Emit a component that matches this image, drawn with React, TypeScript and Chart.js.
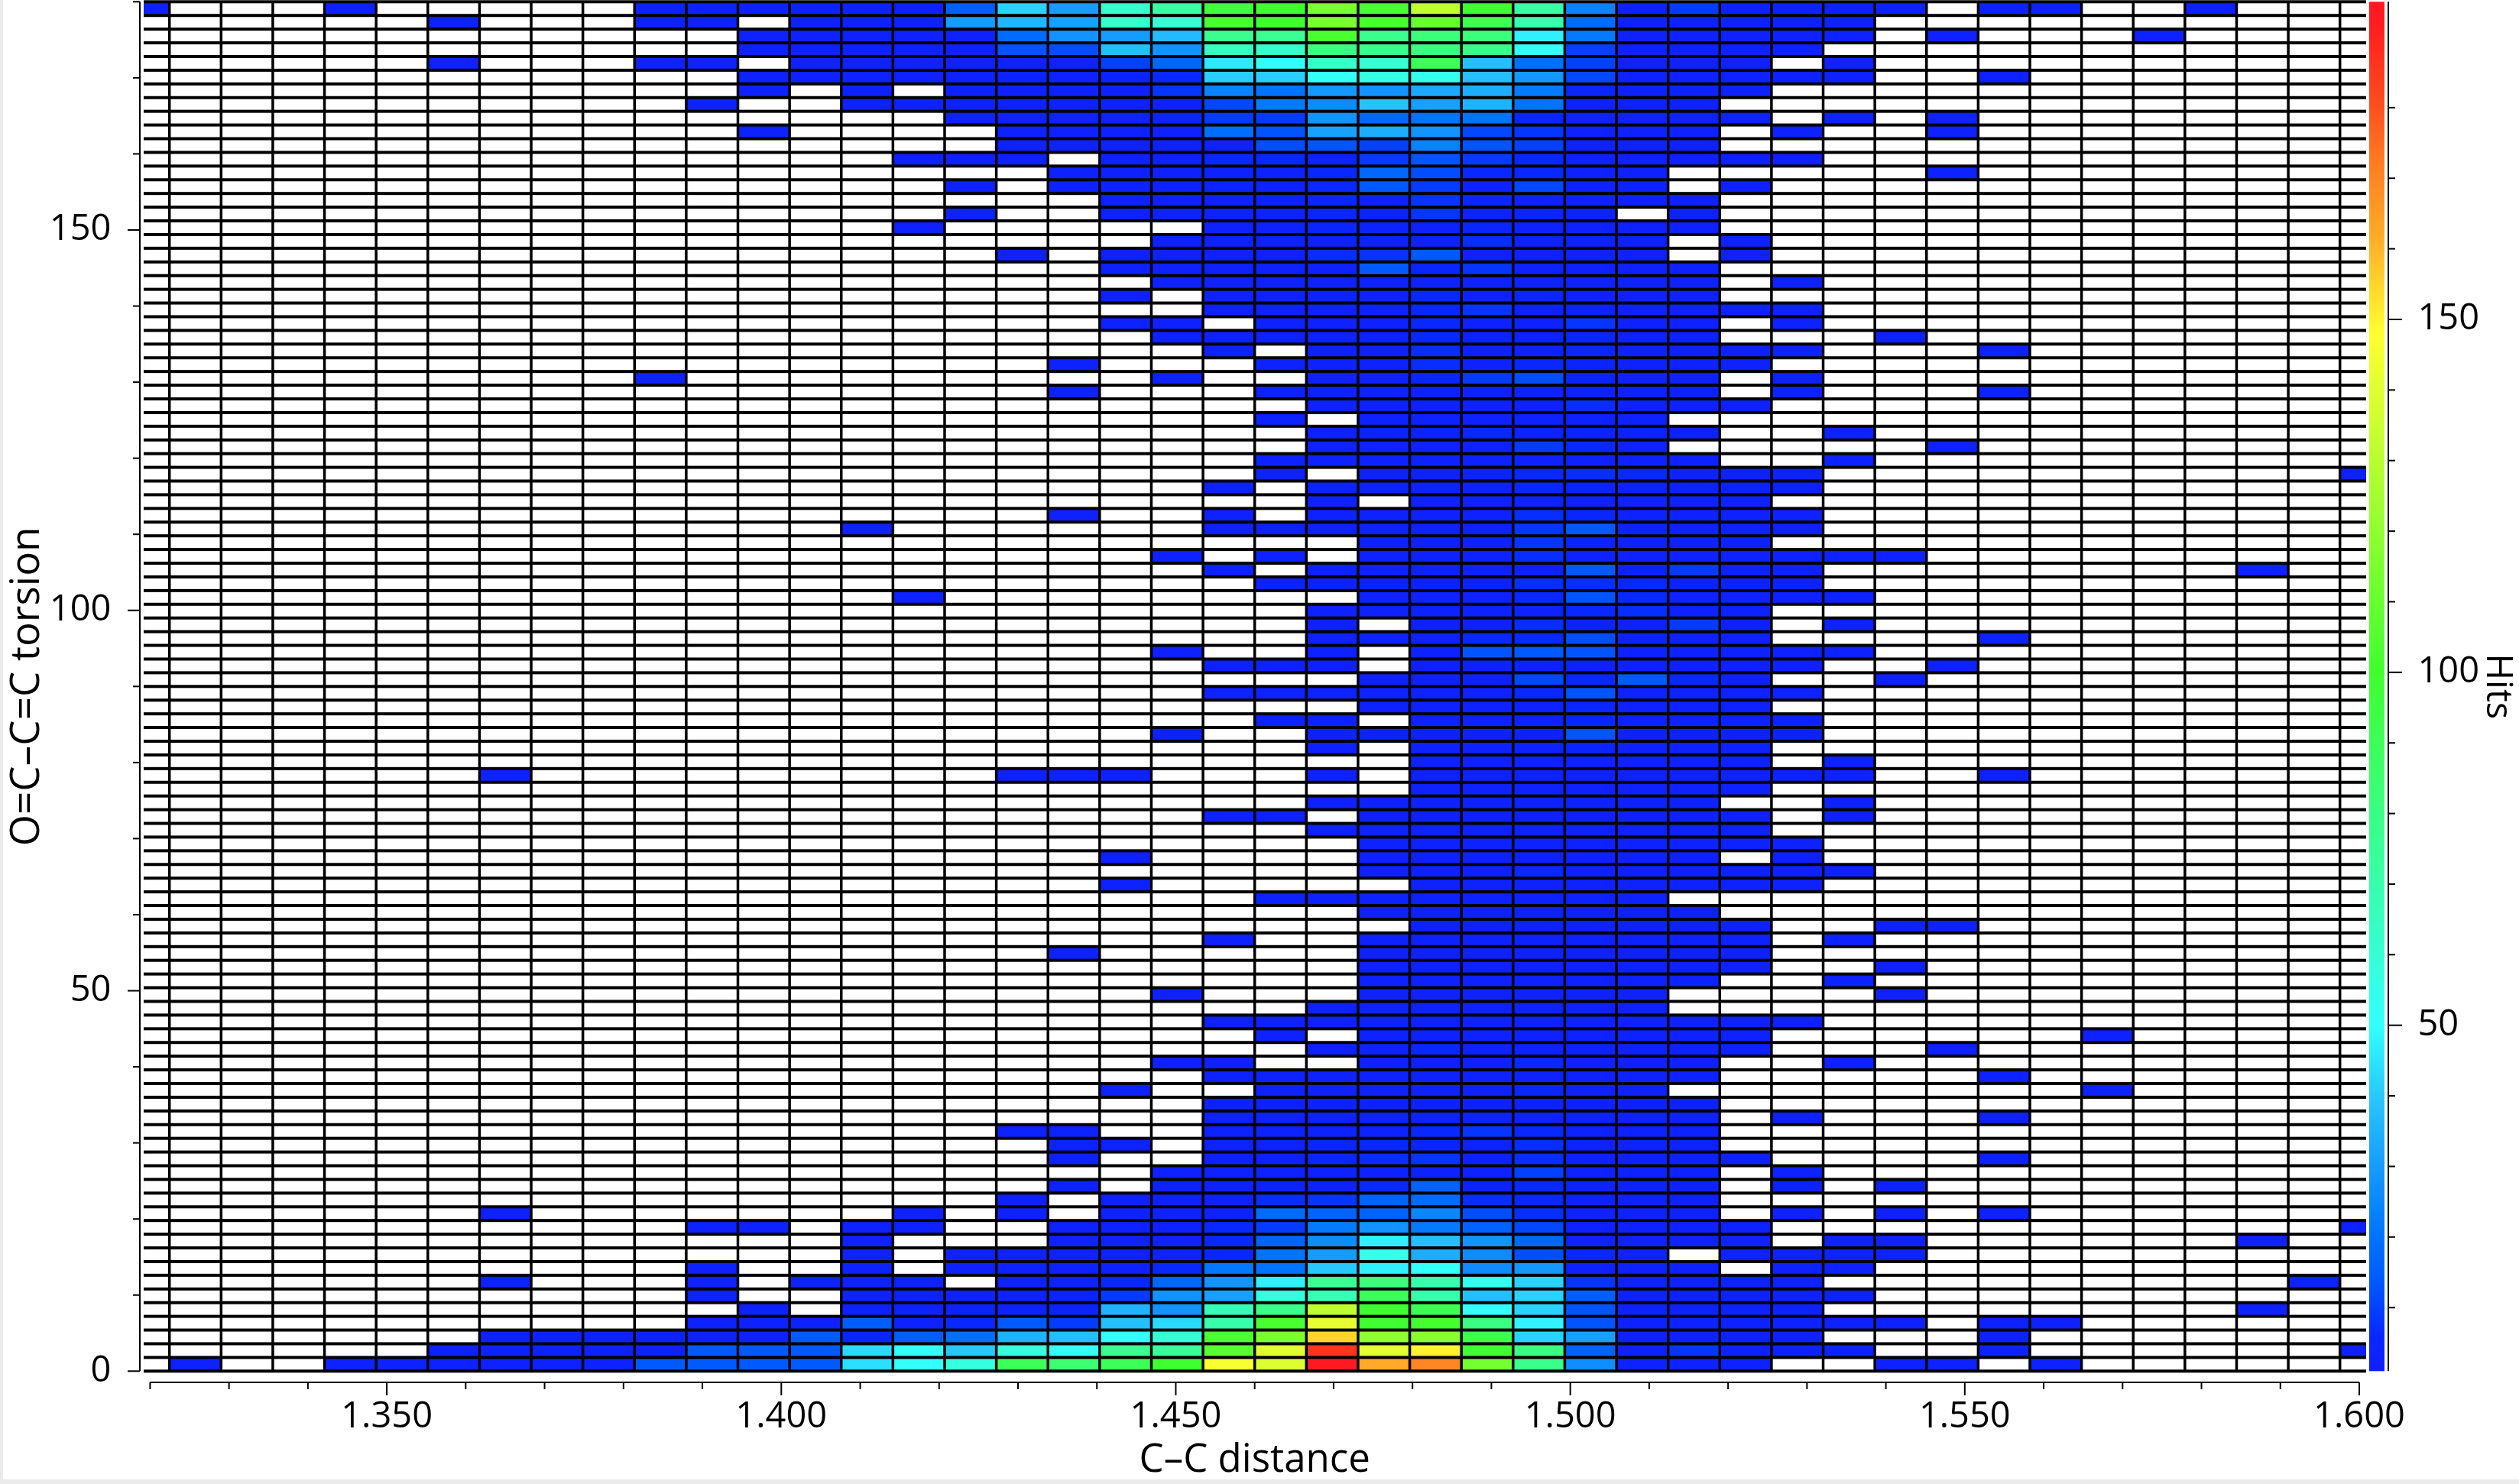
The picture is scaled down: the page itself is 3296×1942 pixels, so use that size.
import React, { useEffect, useRef } from "react";
import { Chart, registerables } from "chart.js";

Chart.register(...registerables);

const X_TITLE = "C\u2013C distance";
const Y_TITLE = "O=C\u2013C=C torsion";
const BAR_TITLE = "Hits";

const xRange = [1.32, 1.6];
const yRange = [0, 180];
const hitsRange = [1, 195];
const xBinStart = 1.3159;
const xBinWidth = 0.00655;
const xBinCount = 44;
const yBinHeight = 1.8;
const yBinCount = 100;
const heatXRange = [1.31919, 1.60087];
const LOW_HITS = 3;

// Rows run from the top of the plot (178.2-180) to the bottom (0-1.8).
// Each row gives the hits of the last columns of the core block, c14..c30; missing leading entries are empty.
const coreHits: number[][] = [
  [3,3,15,42,30,62,72,96,100,115,102,132,100,72,24,3,9],
  [3,3,30,36,31,62,60,102,100,115,102,110,92,70,18,3,3],
  [3,3,3,18,28,30,37,77,76,102,78,82,82,47,22,3,3],
  [3,3,3,13,12,38,28,65,63,80,78,80,78,50,10,3,3],
  [3,3,3,3,3,10,17,46,50,63,60,90,38,19,10,3,3],
  [3,3,3,4,3,4,6,41,41,52,57,55,38,29,11,3,3],
  [3,0,3,3,3,3,8,24,20,29,28,33,34,22,5,3,3],
  [3,3,3,3,3,3,3,11,22,26,39,31,35,20,3,3,3],
  [3,3,3,3,4,9,9,28,17,20,20,5,3,3,3],
  [3,3,3,3,19,13,31,34,28,11,8,3,3,3],
  [3,3,3,3,3,12,13,10,24,13,10,3,3,3],
  [3,3,3,0,3,3,6,6,4,9,13,9,6,3,3,3],
  [3,3,3,3,3,6,17,12,6,6,3,3,0],
  [3,0,3,3,3,4,3,6,14,9,3,11,3,3,0],
  [3,3,3,4,6,3,8,6,3,3,3,3],
  [3,0,0,3,3,3,3,5,3,8,3,4,3,0,3],
  [3,0,0,0,0,0,3,3,5,4,3,5,3,3,3,3],
  [3,3,3,3,3,3,7,3,3,3,0],
  [3,0,3,3,3,3,7,8,14,3,3,3,3,0],
  [3,3,3,3,3,14,5,8,3,3,3,3],
  [3,3,3,3,3,3,3,3,3,3,3],
  [3,0,3,3,4,3,6,3,5,3,3,3],
  [3,3,3,3,6,8,3,3,3,3],
  [3,3,0,3,3,3,6,3,3,8,3,3],
  [3,3,3,3,3,6,4,3,5,3,3],
  [3,0,3,3,7,3,3,5,3,3],
  [3,0,0,0,3,3,3,7,3,6,4,3,3],
  [3,0,0,3,3,5,9,12,4,3,3],
  [3,0,0,0,3,3,3,3,3,3,3,3,3],
  [3,3,3,3,3,7,3,3],
  [3,0,3,3,3,3,3,3,0],
  [3,3,3,6,3,3,3,3],
  [3,3,3,3,9,6,3,0],
  [3,3,3,3,3,3,3,3,3],
  [3,0,3,3,4,6,7,6,3],
  [3,0,3,3,3,3,6,4,3,3],
  [3,0,3,3,3,3,3,3],
  [3,0,0,3,0,3,3,3,3,7,5,3,3],
  [3,0,0,0,0,0,0,3,3,3,3,3,3,8,14,4,3],
  [3,3,3,8,4,3,3],
  [3,0,3,0,3,3,3,7,3,3,3],
  [3,0,3,3,3,3,3,14,4,9],
  [3,3,3,3,3,7,7,6,3],
  [3,0,0,0,0,0,0,0,0,3,3,3,6,13,6,3],
  [3,3,3,3,3,6,7,3],
  [3,0,3,3,7,4,3,9],
  [3,3,3,6,6,12,4,3],
  [3,0,0,3,0,3,13,14,13,3,3],
  [3,3,3,0,3,3,3,3,3,3],
  [3,3,3,11,6,14,6],
  [3,3,3,3,3,3,6,13,3,3],
  [3,3,3,3,5,3,3],
  [3,3,0,3,3,3,5,3,3],
  [3,0,0,3,3,3,3,3,13,3,3],
  [3,0,3,3,3,4,3,3],
  [3,3,3,3,3,3],
  [3,3,3,0,0,0,3,0,3,3,3,3,3,3],
  [3,3,3,3,3,3],
  [3,3,3,3,3,3,3,3],
  [3,3,0,3,3,3,3,3,3,3],
  [3,3,3,3,3,3,3,3],
  [3,3,3,3,3,3,3],
  [3,0,0,0,0,3,3,3,3,3,3,3],
  [3,3,3,6,3,3,3],
  [3,0,0,0,0,0,3,3,3,3,3,3],
  [3,3,3,3,3,3,3,3,0],
  [3,3,3,3,3,3,3],
  [3,3,3,3,3,3],
  [3,0,0,3,3,3,3,3,3,3],
  [3,0,0,0,0,0,3,3,3,3,3,3,3],
  [3,3,3,3,3,3,3],
  [3,3,3,3,3,3,3],
  [3,0,0,0,3,3,3,3,3,3,0],
  [3,3,3,3,3,3,3,0],
  [3,3,3,3,3,3,3,3,3,3],
  [3,0,3,3,3,3,3,3,3],
  [3,3,6,3,3,3,3,3],
  [3,3,0,0,3,3,3,6,3,3,3],
  [3,3,3,3,3,3,3,3,3,3],
  [3,0,0,3,3,3,3,3,5,3,3,0],
  [3,3,3,3,3,3,3,3,3,3],
  [3,3,3,3,3,3,3,3,3,3],
  [3,3,0,0,3,3,3,3,6,8,6,3,3,3],
  [3,3,0,3,3,5,6,5,3,7,3,3,3],
  [3,0,0,3,3,5,7,8,3,7,3,3,3],
  [3,3,3,3,3,3,3,10,3,3,3],
  [3,0,3,3,3,3,6,16,3,6,3,3,3],
  [3,0,3,3,3,7,8,16,18,7,6,3,3,3],
  [3,0,3,0,3,3,3,18,16,16,25,12,7,3,3,3],
  [3,3,0,0,3,3,3,6,9,22,28,22,16,11,3,3,3],
  [3,0,0,0,3,3,3,6,16,26,47,38,28,17,3,3,3],
  [3,0,3,3,3,3,3,5,20,30,55,34,26,12,6,3,0],
  [3,0,3,3,3,3,6,21,20,40,47,51,26,29,3,3,3],
  [3,3,0,3,3,6,17,28,47,76,82,70,54,42,8,3,3],
  [3,3,3,3,4,9,28,31,58,68,90,70,38,42,15,3,3],
  [3,3,4,3,4,35,28,67,78,132,100,92,50,42,13,3,3],
  [15,3,6,14,9,38,43,70,102,142,100,101,80,48,13,3,3],
  [5,15,19,35,38,51,60,103,115,155,120,118,93,42,31,3,3],
  [43,52,40,58,52,76,74,106,140,186,141,150,100,80,16,3,8],
  [44,51,58,90,84,90,100,146,139,195,162,170,113,78,27,3,3],
];

// Columns outside the core block that hold a few hits, same row order.
const sideColumns: number[][] = [
  [0,4,10,11,12,13,31,32,33,34,36,37,40],
  [6,10,11,13,31,32,33],
  [12,13,31,32,33,35,39],
  [12,13,31,32],
  [6,10,11,13,31,33],
  [12,13,31,32,33,36],
  [12,31],
  [11],
  [31,33,35],
  [12,32,35],
  [],
  [31,32],
  [35],
  [31],
  [],
  [],
  [],
  [31],
  [31],
  [],
  [32],
  [],
  [31,32],
  [32],
  [34],
  [31,32,36],
  [31],
  [10,32],
  [32,36],
  [31],
  [],
  [33],
  [35],
  [33],
  [31,32,43],
  [31,32],
  [31],
  [31,32],
  [31,32],
  [31],
  [31,32,33,34],
  [31,32,41],
  [31,32],
  [31,32,33],
  [31],
  [31,33],
  [31,36],
  [31,32,33],
  [31,32,35],
  [31,34],
  [31,32],
  [31],
  [31,32],
  [31,32],
  [31],
  [31,33],
  [7,31,32,33,36],
  [31],
  [33],
  [31,33],
  [31],
  [31,32],
  [32],
  [31,32,33],
  [31,32],
  [],
  [],
  [31,34,35],
  [31,33],
  [31],
  [31,34],
  [33],
  [34],
  [],
  [31,32],
  [31,38],
  [31,35],
  [33],
  [36],
  [38],
  [],
  [32,36],
  [],
  [],
  [31,36],
  [32],
  [32,34],
  [],
  [7,32,34,36],
  [11,12,31,43],
  [31,33,34,41],
  [31,32,33,34],
  [11,32,33],
  [7,11,13,31,32,42],
  [11,31,32,33],
  [12,31,32,41],
  [11,12,13,31,32,33,34,36,37],
  [7,8,9,10,11,12,13,31,32,36],
  [6,7,8,9,10,11,12,13,31,32,33,36,43],
  [1,4,5,6,7,8,9,10,11,12,13,31,34,35,37],
];

// [row, column, hits] for side cells lighter than the common low count.
const sideStronger: number[][] = [
  [97,13,14],[98,11,14],[98,12,14],[98,13,14],[99,10,14],[99,11,14],[99,12,14],[99,13,14],
];

const colorStopValues = [1, 6, 14, 20, 30, 40, 50, 100, 148, 162, 172, 182, 192, 195];
const colorStopRgb = [
  [16, 30, 255],
  [8, 40, 255],
  [0, 90, 255],
  [0, 115, 255],
  [22, 155, 255],
  [40, 200, 255],
  [51, 255, 255],
  [64, 255, 48],
  [255, 255, 48],
  [255, 170, 40],
  [255, 125, 35],
  [255, 70, 30],
  [255, 28, 30],
  [255, 25, 35],
];

function hitColor(v: number): string {
  const vs = colorStopValues;
  let i = 0;
  while (i < vs.length - 2 && v > vs[i + 1]) i++;
  const f = Math.min(1, Math.max(0, (v - vs[i]) / (vs[i + 1] - vs[i])));
  const a = colorStopRgb[i];
  const b = colorStopRgb[i + 1];
  return `rgb(${a.map((c, k) => Math.round(c + (b[k] - c) * f)).join(",")})`;
}

type Cell = { x: number; y: number; v: number };

const cells: Cell[] = [];
for (let t = 0; t < yBinCount; t++) {
  const row = new Array(xBinCount).fill(0);
  const core = coreHits[t];
  const start = 31 - core.length;
  core.forEach((v, k) => (row[start + k] = v));
  sideColumns[t].forEach((c) => (row[c] = LOW_HITS));
  sideStronger.filter((s) => s[0] === t).forEach((s) => (row[s[1]] = s[2]));
  for (let c = 0; c < xBinCount; c++) {
    cells.push({
      x: xBinStart + (c + 0.5) * xBinWidth,
      y: yRange[1] - (t + 0.5) * yBinHeight,
      v: row[c],
    });
  }
}

const FONT = "'Open Sans', sans-serif";

const paperPlugin = {
  id: "paper",
  beforeDraw(chart: any) {
    const { ctx, width, height } = chart;
    ctx.save();
    ctx.fillStyle = "#ebebeb";
    ctx.fillRect(0, 0, width, height);
    ctx.fillStyle = "#ffffff";
    ctx.fillRect(4, 0, width - 4, 1936);
    ctx.restore();
  },
};

const heatPlugin = {
  id: "heat",
  beforeDatasetsDraw(chart: any) {
    const { ctx, scales } = chart;
    const xs = scales.x;
    const ys = scales.y;
    const left = xs.getPixelForValue(heatXRange[0]);
    const right = xs.getPixelForValue(heatXRange[1]);
    const gapX = 1.75;
    const gapY = 2;
    ctx.save();
    ctx.fillStyle = "#000000";
    ctx.fillRect(
      left,
      ys.getPixelForValue(yRange[1]) - gapY,
      right - left,
      ys.getPixelForValue(yRange[0]) - ys.getPixelForValue(yRange[1]) + 2 * gapY
    );
    chart.data.datasets[0].data.forEach((cell: Cell) => {
      const l = xs.getPixelForValue(cell.x - xBinWidth / 2);
      const r = xs.getPixelForValue(cell.x + xBinWidth / 2);
      const t = ys.getPixelForValue(cell.y + yBinHeight / 2);
      const b = ys.getPixelForValue(cell.y - yBinHeight / 2);
      const x0 = l < left ? left : l + gapX;
      const x1 = r > right ? right : r - gapX;
      ctx.fillStyle = cell.v > 0 ? hitColor(cell.v) : "#ffffff";
      ctx.fillRect(x0, t + gapY, x1 - x0, b - t - 2 * gapY);
    });
    ctx.restore();
  },
};

const axesPlugin = {
  id: "axesAndBar",
  afterDraw(chart: any) {
    const { ctx, scales } = chart;
    const { x: xs, y: ys, hits } = scales;
    ctx.save();
    ctx.strokeStyle = "#000000";
    ctx.lineWidth = 2;
    const seg = (a: number, b: number, c: number, d: number) => {
      ctx.beginPath();
      ctx.moveTo(a, b);
      ctx.lineTo(c, d);
      ctx.stroke();
    };

    const yAxisX = ys.right - 13.4;
    seg(yAxisX, ys.getPixelForValue(yRange[1]), yAxisX, ys.getPixelForValue(yRange[0]));
    ys.ticks.forEach((t: any) => {
      const p = ys.getPixelForValue(t.value);
      seg(yAxisX - (t.value % 50 === 0 ? 16 : 9), p, yAxisX, p);
    });

    const xAxisY = xs.top + 14.7;
    seg(xs.getPixelForValue(xRange[0]), xAxisY, xs.getPixelForValue(xRange[1]), xAxisY);
    xs.ticks.forEach((t: any) => {
      const p = xs.getPixelForValue(t.value);
      const major = Math.round(t.value * 100) % 5 === 0;
      seg(p, xAxisY, p, xAxisY + (major ? 17 : 9));
    });

    const barL = hits.left + 13;
    const barW = 20;
    const top = hits.getPixelForValue(hitsRange[1]);
    const bottom = hits.getPixelForValue(hitsRange[0]);
    const g = ctx.createLinearGradient(0, bottom, 0, top);
    colorStopValues.forEach((v) => {
      g.addColorStop((v - hitsRange[0]) / (hitsRange[1] - hitsRange[0]), hitColor(v));
    });
    ctx.fillStyle = g;
    ctx.fillRect(barL, top, barW, bottom - top);

    const barAxisX = hits.left + 38;
    seg(barAxisX, top, barAxisX, bottom);
    hits.ticks.forEach((t: any) => {
      if (t.value % 10 !== 0) return;
      const p = hits.getPixelForValue(t.value);
      seg(barAxisX, p, barAxisX + (t.value % 50 === 0 ? 18 : 9), p);
    });
    ctx.restore();
  },
};

const noVerticalPadding = (s: any) => {
  s.paddingTop = 0;
  s.paddingBottom = 0;
};

export default function App() {
  const ref = useRef<HTMLCanvasElement>(null);
  useEffect(() => {
    document.body.style.margin = "0";
    const tickFont = { family: FONT, size: 47 };
    const chart = new Chart(ref.current as HTMLCanvasElement, {
      type: "scatter",
      data: { datasets: [{ data: cells as any, pointRadius: 0 }] },
      plugins: [paperPlugin, heatPlugin, axesPlugin],
      options: {
        responsive: false,
        animation: false,
        layout: { padding: { top: 2.3, left: 0, right: 0, bottom: 0 } },
        plugins: { legend: { display: false }, tooltip: { enabled: false } },
        scales: {
          x: {
            type: "linear",
            min: xRange[0],
            max: xRange[1],
            grid: { display: false },
            border: { display: false },
            afterFit: (s: any) => {
              s.height = 147.7;
              s.paddingLeft = 0;
              s.paddingRight = 0;
            },
            ticks: {
              stepSize: 0.01,
              autoSkip: false,
              maxRotation: 0,
              padding: 24,
              color: "#000",
              font: tickFont,
              callback: (v: any) => (Math.round(v * 100) % 5 === 0 ? Number(v).toFixed(3) : ""),
            },
            title: { display: true, text: X_TITLE, color: "#000", font: { family: FONT, size: 51 }, padding: { top: 0, bottom: 0 } },
          },
          y: {
            type: "linear",
            min: yRange[0],
            max: yRange[1],
            grid: { display: false },
            border: { display: false },
            afterFit: (s: any) => {
              s.width = 196.4;
              noVerticalPadding(s);
            },
            ticks: {
              stepSize: 10,
              autoSkip: false,
              padding: 43,
              color: "#000",
              font: tickFont,
              callback: (v: any) => (v % 50 === 0 ? String(v) : ""),
            },
            title: { display: true, text: Y_TITLE, color: "#000", font: { family: FONT, size: 53 }, padding: { top: 4, bottom: 0 } },
          },
          hits: {
            type: "linear",
            position: "right",
            min: hitsRange[0],
            max: hitsRange[1],
            grid: { display: false },
            border: { display: false },
            afterFit: (s: any) => {
              s.width = 209;
              noVerticalPadding(s);
            },
            ticks: {
              stepSize: 10,
              autoSkip: false,
              padding: 68.5,
              color: "#000",
              font: tickFont,
              callback: (v: any) => (v % 50 === 0 ? String(v) : ""),
            },
            title: { display: true, text: BAR_TITLE, color: "#000", font: { family: FONT, size: 47 }, padding: { top: 0, bottom: 0 } },
          },
        },
      } as any,
    });
    return () => chart.destroy();
  }, []);
  return <canvas ref={ref} width={3296} height={1942} style={{ display: "block" }} />;
}
